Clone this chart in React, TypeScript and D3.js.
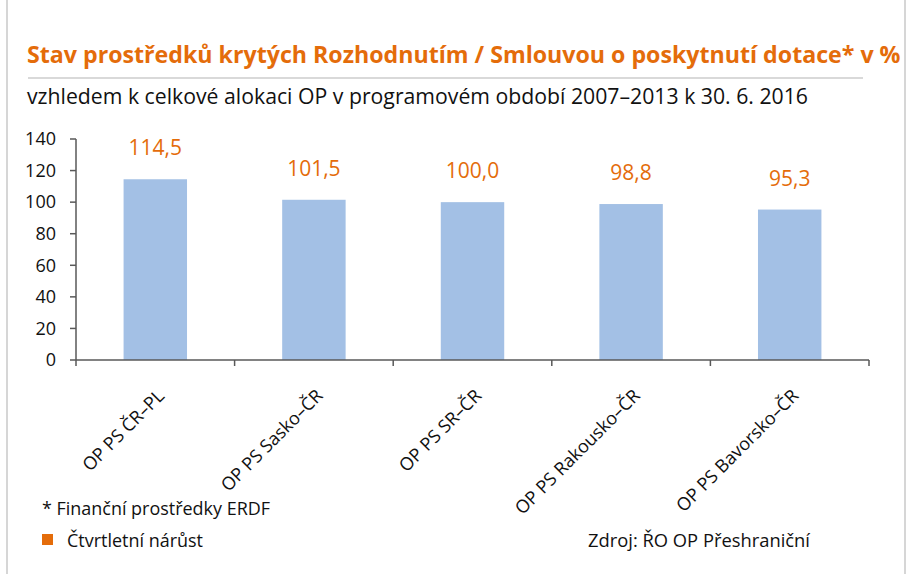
import React, { useLayoutEffect, useRef, useState } from 'react';
import * as d3 from 'd3';

const categories = ['OP PS ČR–PL', 'OP PS Sasko–ČR', 'OP PS SR–ČR', 'OP PS Rakousko–ČR', 'OP PS Bavorsko–ČR'];
const values = [114.5, 101.5, 100.0, 98.8, 95.3];
const yTicks = [0, 20, 40, 60, 80, 100, 120, 140];

const title = 'Stav prostředků krytých Rozhodnutím / Smlouvou o poskytnutí dotace* v %';
const subtitle = 'vzhledem k celkové alokaci OP v programovém období 2007–2013 k 30. 6. 2016';
const footnote = '* Finanční prostředky ERDF';
const legendLabel = 'Čtvrtletní nárůst';
const source = 'Zdroj: ŘO OP Přeshraniční';

const W = 907;
const H = 574;
const orange = '#E46C0A';
const barColor = '#A3C0E5';
const font = '"Open Sans", "Noto Sans", sans-serif';

const App: React.FC = () => {
  const titleRef = useRef<SVGTextElement>(null);
  const [titleScale, setTitleScale] = useState(0.9);

  // squeeze the title horizontally so it ends just inside the frame
  useLayoutEffect(() => {
    if (titleRef.current) {
      const w = titleRef.current.getComputedTextLength();
      if (w > 0) setTitleScale(874 / w);
    }
  }, []);

  const left = 76, right = 869, top = 139, bottom = 360;

  const x = d3.scaleBand<string>()
    .domain(categories)
    .range([left, right])
    .paddingInner(0.6)
    .paddingOuter(0.3);

  const y = d3.scaleLinear()
    .domain([0, 140])
    .range([bottom, top]);

  const step = (right - left) / categories.length;
  const fmt = (v: number) => v.toFixed(1).replace('.', ',');

  return (
    <svg width={W} height={H} style={{ position: 'absolute', left: 0, top: 0, fontFamily: font }}>
      <rect x={0} y={0} width={W} height={H} fill="#fff" />
      {/* frame sides */}
      <line x1={7} x2={7} y1={0} y2={H} stroke="#c8c8c8" strokeWidth={1.5} />
      <line x1={905} x2={905} y1={0} y2={H} stroke="#c8c8c8" strokeWidth={1.5} />

      {/* heading */}
      <text ref={titleRef} transform={`translate(27,63) scale(${titleScale},1)`} fill={orange} fontSize={24} fontWeight={700}>{title}</text>
      <line x1={28} x2={863} y1={78} y2={78} stroke="#d9d9d9" strokeWidth={2} />
      <text x={27} y={104} fill="#111" fontSize={21} textLength={781} lengthAdjust="spacingAndGlyphs">{subtitle}</text>

      {/* y axis */}
      <line x1={left} x2={left} y1={top} y2={bottom} stroke="#595959" strokeWidth={1.5} />
      {yTicks.map(t => (
        <g key={t}>
          <line x1={left - 6} x2={left} y1={y(t)} y2={y(t)} stroke="#595959" strokeWidth={1.5} />
          <text x={56} y={y(t)} dy="0.35em" textAnchor="end" fontSize={18} fill="#111">{t}</text>
        </g>
      ))}

      {/* bars */}
      {categories.map((c, i) => (
        <g key={c}>
          <rect x={x(c)} y={y(values[i])} width={x.bandwidth()} height={bottom - y(values[i])} fill={barColor} />
          <text x={x(c)! + x.bandwidth() / 2} y={y(values[i]) - 24} textAnchor="middle" fontSize={21} fill={orange}>{fmt(values[i])}</text>
        </g>
      ))}

      {/* x axis */}
      <line x1={left} x2={right} y1={bottom} y2={bottom} stroke="#595959" strokeWidth={1.5} />
      {d3.range(categories.length + 1).map(k => (
        <line key={k} x1={left + k * step} x2={left + k * step} y1={bottom} y2={bottom + 6} stroke="#595959" strokeWidth={1.5} />
      ))}
      {categories.map((c, i) => {
        const cx = left + (i + 0.5) * step + 10;
        return (
          <text key={c} transform={`translate(${cx},397) rotate(-45)`} textAnchor="end" fontSize={18} fill="#111">{c}</text>
        );
      })}

      {/* notes */}
      <text x={42} y={515} fontSize={18} fill="#111" textLength={228} lengthAdjust="spacingAndGlyphs">{footnote}</text>
      <rect x={42} y={534} width={11} height={11} fill={orange} />
      <text x={67} y={547} fontSize={18} fill="#111" textLength={136} lengthAdjust="spacingAndGlyphs">{legendLabel}</text>
      <text x={588} y={547} fontSize={18} fill="#111" textLength={222} lengthAdjust="spacingAndGlyphs">{source}</text>
    </svg>
  );
};

export default App;
